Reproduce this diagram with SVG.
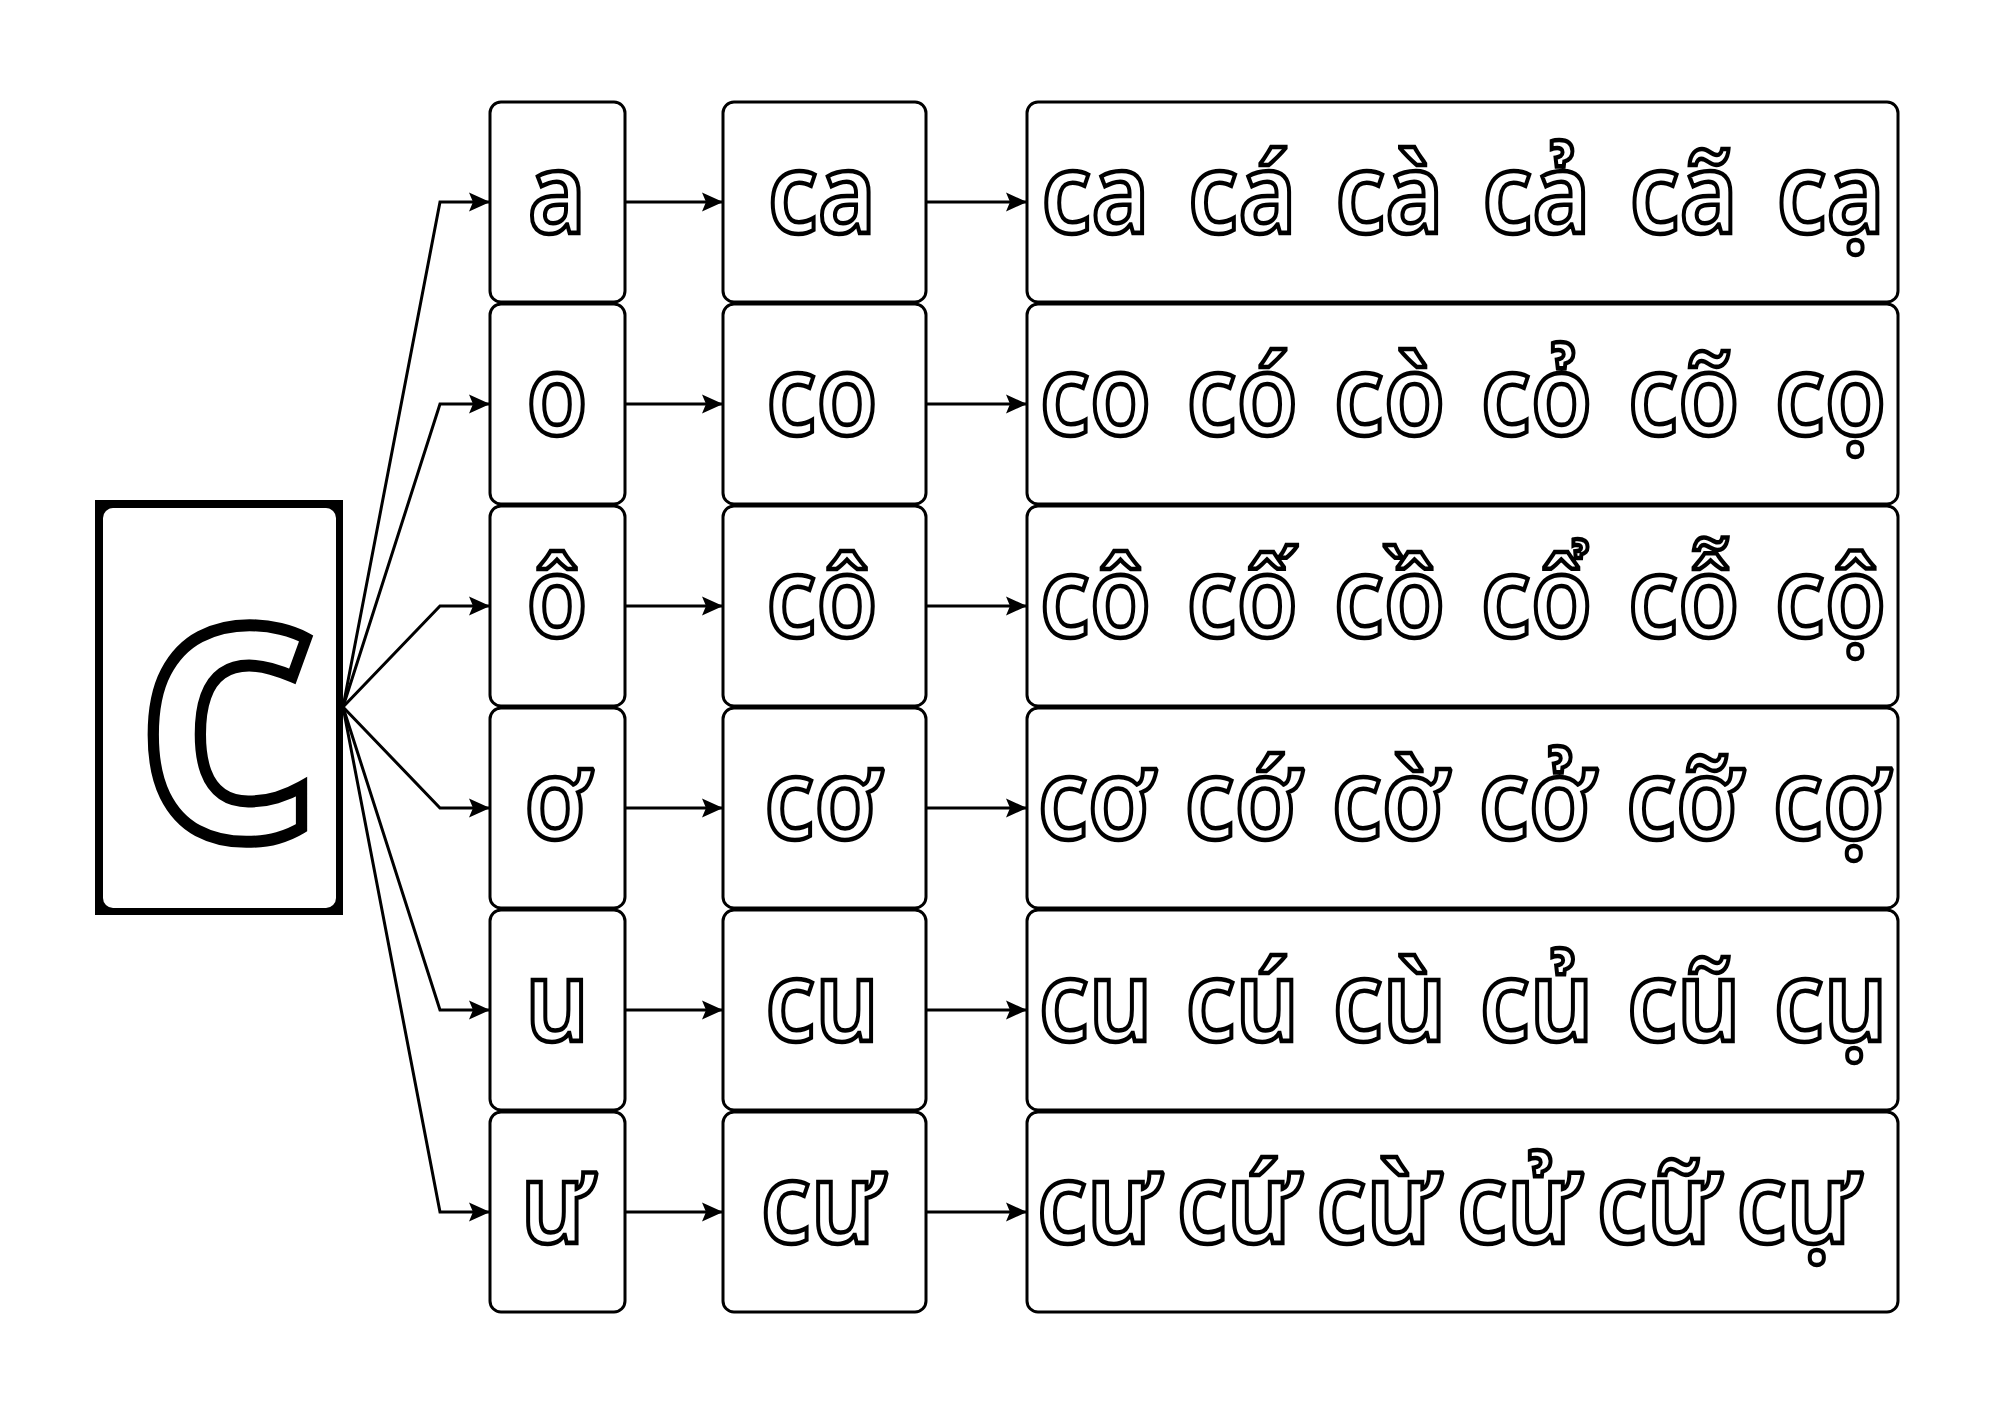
<svg xmlns="http://www.w3.org/2000/svg" width="2000" height="1414" viewBox="0 0 2000 1414">
<defs>
<style>
.box{fill:#fff;stroke:#000;stroke-width:3}
.t{font-family:"Noto Sans","Open Sans",sans-serif;font-weight:600;font-size:112px;fill:#fff;stroke:#000;stroke-width:4.5;stroke-linejoin:miter;text-anchor:middle}
.big{font-family:"Noto Sans","Open Sans",sans-serif;font-weight:600;font-size:385px;fill:#fff;stroke:#000;stroke-width:12;text-anchor:middle}
.ln{fill:none;stroke:#000;stroke-width:3;marker-end:url(#ah)}
</style>
<marker id="ah" markerUnits="userSpaceOnUse" markerWidth="24" markerHeight="22" viewBox="-22 -11 24 22" refX="0" refY="0" orient="auto">
<path d="M0,0 L-21,-9.5 L-17,0 L-21,9.5 Z" fill="#000"/>
</marker>
</defs>
<rect width="2000" height="1414" fill="#fff"/>
<g id="connectors">
<path class="ln" d="M343,707 L440,202 L490,202"/>
<path class="ln" d="M343,707 L440,404 L490,404"/>
<path class="ln" d="M343,707 L440,606 L490,606"/>
<path class="ln" d="M343,707 L440,808 L490,808"/>
<path class="ln" d="M343,707 L440,1010 L490,1010"/>
<path class="ln" d="M343,707 L440,1212 L490,1212"/>
<path class="ln" d="M625,202 L723,202"/>
<path class="ln" d="M625,404 L723,404"/>
<path class="ln" d="M625,606 L723,606"/>
<path class="ln" d="M625,808 L723,808"/>
<path class="ln" d="M625,1010 L723,1010"/>
<path class="ln" d="M625,1212 L723,1212"/>
<path class="ln" d="M926,202 L1027,202"/>
<path class="ln" d="M926,404 L1027,404"/>
<path class="ln" d="M926,606 L1027,606"/>
<path class="ln" d="M926,808 L1027,808"/>
<path class="ln" d="M926,1010 L1027,1010"/>
<path class="ln" d="M926,1212 L1027,1212"/>
</g>
<g id="root-c">
<rect x="95" y="500" width="248" height="415" fill="#000"/>
<rect x="103" y="508" width="233" height="400" rx="10" fill="#fff"/>
<text class="big" transform="translate(226,838) scale(0.94,1)">c</text>
</g>
<g id="v-a"><rect class="box" x="490" y="102" width="135" height="200" rx="11"/><text class="t" transform="translate(557,233) scale(0.89,1)">a</text></g>
<g id="v-o"><rect class="box" x="490" y="304" width="135" height="200" rx="11"/><text class="t" transform="translate(557,435) scale(0.89,1)">o</text></g>
<g id="v-oo"><rect class="box" x="490" y="506" width="135" height="200" rx="11"/><text class="t" transform="translate(557,637) scale(0.89,1)">ô</text></g>
<g id="v-ow"><rect class="box" x="490" y="708" width="135" height="200" rx="11"/><text class="t" transform="translate(557,839) scale(0.89,1)">ơ</text></g>
<g id="v-u"><rect class="box" x="490" y="910" width="135" height="200" rx="11"/><text class="t" transform="translate(557,1041) scale(0.89,1)">u</text></g>
<g id="v-uw"><rect class="box" x="490" y="1112" width="135" height="200" rx="11"/><text class="t" transform="translate(557,1243) scale(0.89,1)">ư</text></g>
<g id="s-ca"><rect class="box" x="723" y="102" width="203" height="200" rx="11"/><text class="t" transform="translate(822,233) scale(0.89,1)">ca</text></g>
<g id="s-co"><rect class="box" x="723" y="304" width="203" height="200" rx="11"/><text class="t" transform="translate(822,435) scale(0.89,1)">co</text></g>
<g id="s-coo"><rect class="box" x="723" y="506" width="203" height="200" rx="11"/><text class="t" transform="translate(822,637) scale(0.89,1)">cô</text></g>
<g id="s-cow"><rect class="box" x="723" y="708" width="203" height="200" rx="11"/><text class="t" transform="translate(822,839) scale(0.89,1)">cơ</text></g>
<g id="s-cu"><rect class="box" x="723" y="910" width="203" height="200" rx="11"/><text class="t" transform="translate(822,1041) scale(0.89,1)">cu</text></g>
<g id="s-cuw"><rect class="box" x="723" y="1112" width="203" height="200" rx="11"/><text class="t" transform="translate(822,1243) scale(0.89,1)">cư</text></g>
<g id="w-ca"><rect class="box" x="1027" y="102" width="871" height="200" rx="11"/><text class="t" transform="translate(1463,233) scale(0.89,1)"><tspan x="-413">ca</tspan><tspan x="-248">cá</tspan><tspan x="-82.6">cà</tspan><tspan x="82.6">cả</tspan><tspan x="248">cã</tspan><tspan x="413">cạ</tspan></text></g>
<g id="w-co"><rect class="box" x="1027" y="304" width="871" height="200" rx="11"/><text class="t" transform="translate(1463,435) scale(0.89,1)"><tspan x="-413">co</tspan><tspan x="-248">có</tspan><tspan x="-82.6">cò</tspan><tspan x="82.6">cỏ</tspan><tspan x="248">cõ</tspan><tspan x="413">cọ</tspan></text></g>
<g id="w-coo"><rect class="box" x="1027" y="506" width="871" height="200" rx="11"/><text class="t" transform="translate(1463,637) scale(0.89,1)"><tspan x="-413">cô</tspan><tspan x="-248">cố</tspan><tspan x="-82.6">cồ</tspan><tspan x="82.6">cổ</tspan><tspan x="248">cỗ</tspan><tspan x="413">cộ</tspan></text></g>
<g id="w-cow"><rect class="box" x="1027" y="708" width="871" height="200" rx="11"/><text class="t" transform="translate(1463,839) scale(0.89,1)"><tspan x="-413">cơ</tspan><tspan x="-248">cớ</tspan><tspan x="-82.6">cờ</tspan><tspan x="82.6">cở</tspan><tspan x="248">cỡ</tspan><tspan x="413">cợ</tspan></text></g>
<g id="w-cu"><rect class="box" x="1027" y="910" width="871" height="200" rx="11"/><text class="t" transform="translate(1463,1041) scale(0.89,1)"><tspan x="-413">cu</tspan><tspan x="-248">cú</tspan><tspan x="-82.6">cù</tspan><tspan x="82.6">củ</tspan><tspan x="248">cũ</tspan><tspan x="413">cụ</tspan></text></g>
<g id="w-cuw"><rect class="box" x="1027" y="1112" width="871" height="200" rx="11"/><text class="t" transform="translate(1463,1243) scale(0.89,1)"><tspan x="-410">cư</tspan><tspan x="-253">cứ</tspan><tspan x="-96">cừ</tspan><tspan x="62">cử</tspan><tspan x="219">cữ</tspan><tspan x="376">cự</tspan></text></g>
</svg>
